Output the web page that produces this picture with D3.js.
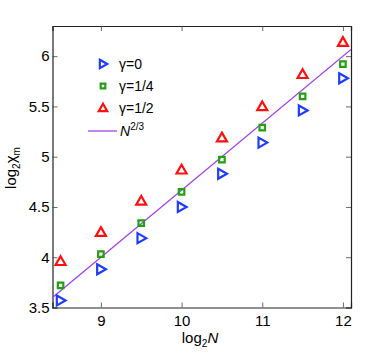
<!DOCTYPE html>
<html><head><meta charset="utf-8">
<script src="https://cdn.jsdelivr.net/npm/d3@7"></script>
<style>body{margin:0;background:#fff}svg{display:block;font-family:"Liberation Sans",Arial,sans-serif}</style>
</head><body><svg id="c" width="388" height="355"></svg>
<script>
const xs = [8.5, 9, 9.5, 10, 10.5, 11, 11.5, 12];
const gamma0 = [3.57, 3.88, 4.19, 4.50, 4.83, 5.14, 5.46, 5.78];
const gamma14 = [3.72, 4.03, 4.34, 4.65, 4.97, 5.29, 5.60, 5.92];
const gamma12 = [3.96, 4.25, 4.56, 4.87, 5.19, 5.50, 5.82, 6.14];
const xTicks = [9, 10, 11, 12];
const yTicks = [3.5, 4, 4.5, 5, 5.5, 6];
const fitSlope = 2/3, fitIntercept = -2;
const series = [
  {name:"γ=0", vals:gamma0, color:"#1f3cff", shape:"right"},
  {name:"γ=1/4", vals:gamma14, color:"#22a010", shape:"square"},
  {name:"γ=1/2", vals:gamma12, color:"#ff1010", shape:"up"}
];
const svg = d3.select("#c");
const L=52.5, R=351, T=26, B=307.5;
const x = d3.scaleLinear().domain([8.4, 12.1]).range([L, R]);
const y = d3.scaleLinear().domain([3.5, 6.3]).range([B, T]);

const xb = svg.append("g").attr("transform",`translate(0,${B})`).call(d3.axisBottom(x).tickValues(xTicks).tickSize(-5).tickPadding(8).tickFormat(d3.format("d")));
const xt = svg.append("g").attr("transform",`translate(0,${T})`).call(d3.axisTop(x).tickValues(xTicks).tickSize(-5).tickFormat(""));
const yl = svg.append("g").attr("transform",`translate(${L},0)`).call(d3.axisLeft(y).tickValues(yTicks).tickSize(-5).tickPadding(3).tickFormat(d=>String(d)));
const yr = svg.append("g").attr("transform",`translate(${R},0)`).call(d3.axisRight(y).tickValues(yTicks).tickSize(-5).tickFormat(""));
[xb,xt,yl,yr].forEach(g=>{
  g.select(".domain").attr("stroke","#222").attr("stroke-width",1.2);
  g.selectAll(".tick line").attr("stroke","#444").attr("stroke-width",0.8);
  g.selectAll(".tick text").attr("font-size",15).attr("fill","#000").attr("font-family","Liberation Sans, Arial, sans-serif");
});

svg.append("clipPath").attr("id","clp").append("rect").attr("x",L).attr("y",T).attr("width",R-L).attr("height",B-T);
const xd = x.domain();
svg.append("line").attr("clip-path","url(#clp)")
  .attr("x1", x(xd[0])).attr("y1", y(fitSlope*xd[0]+fitIntercept))
  .attr("x2", x(xd[1])).attr("y2", y(fitSlope*xd[1]+fitIntercept))
  .attr("stroke","#a040f0").attr("stroke-width",1.3);

function marker(g, shape, cx, cy, s, color){
  let p;
  if(shape==="right") p = `M${cx-s*0.75},${cy-s} L${cx+s},${cy} L${cx-s*0.75},${cy+s} Z`;
  else if(shape==="up") p = `M${cx},${cy-s} L${cx+s},${cy+s*0.75} L${cx-s},${cy+s*0.75} Z`;
  else { const h=s*0.55; p = `M${cx-h},${cy-h} H${cx+h} V${cy+h} H${cx-h} Z`; }
  g.append("path").attr("d",p).attr("fill","none").attr("stroke",color).attr("stroke-width",2.2).attr("stroke-linejoin","miter");
}
const mg = svg.append("g");
series.forEach(s=>{
  s.vals.forEach((v,i)=>marker(mg, s.shape, x(xs[i]), y(v), 5, s.color));
});

const lg = svg.append("g");
series.forEach((s,i)=>{
  const ly = 64 + i*22;
  marker(lg, s.shape, 103, ly, 4.2, s.color);
  lg.append("text").attr("x",119).attr("y",ly+5).attr("font-size",14).text(s.name);
});
lg.append("line").attr("x1",88).attr("x2",117).attr("y1",131).attr("y2",131).attr("stroke","#a040f0").attr("stroke-width",1.3);
const nt = lg.append("text").attr("x",120).attr("y",136).attr("font-size",14);
nt.append("tspan").attr("font-style","italic").text("N");
nt.append("tspan").attr("font-size",10).attr("dy",-6).text("2/3");

const xlab = svg.append("text").attr("x",200).attr("y",343).attr("text-anchor","middle").attr("font-size",15);
xlab.append("tspan").text("log");
xlab.append("tspan").attr("font-size",10).attr("dy",4).text("2");
xlab.append("tspan").attr("dy",-4).attr("font-style","italic").text("N");
const ylab = svg.append("text").attr("transform","translate(16,168) rotate(-90)").attr("text-anchor","middle").attr("font-size",15);
ylab.append("tspan").text("log");
ylab.append("tspan").attr("font-size",10).attr("dy",4).text("2");
ylab.append("tspan").attr("dy",-4).text("χ");
ylab.append("tspan").attr("font-size",10).attr("dy",4).text("m");
</script></body></html>
